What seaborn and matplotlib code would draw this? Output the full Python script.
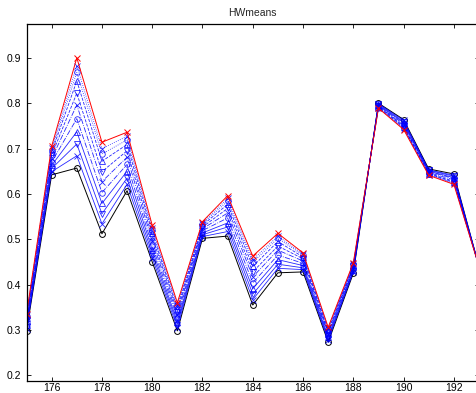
import matplotlib
matplotlib.use("Agg")
import matplotlib.pyplot as plt
import seaborn as sns
import pandas as pd

years = [175, 176, 177, 178, 179, 180, 181, 182, 183, 184, 185, 186, 187, 188, 189, 190, 191, 192, 193]

first_series = [0.298, 0.642, 0.657, 0.512, 0.607, 0.450, 0.298, 0.502, 0.507, 0.355, 0.426, 0.428, 0.273, 0.425, 0.800, 0.764, 0.655, 0.644, 0.440]
blue_1 = [0.302, 0.649, 0.684, 0.534, 0.621, 0.459, 0.305, 0.506, 0.517, 0.367, 0.436, 0.433, 0.277, 0.428, 0.799, 0.762, 0.653, 0.641, 0.440]
blue_2 = [0.306, 0.656, 0.710, 0.556, 0.635, 0.468, 0.312, 0.510, 0.527, 0.379, 0.445, 0.437, 0.280, 0.430, 0.798, 0.759, 0.652, 0.639, 0.440]
blue_3 = [0.310, 0.663, 0.737, 0.579, 0.650, 0.477, 0.318, 0.514, 0.536, 0.391, 0.455, 0.442, 0.284, 0.433, 0.796, 0.757, 0.650, 0.636, 0.440]
blue_4 = [0.315, 0.670, 0.766, 0.603, 0.665, 0.486, 0.326, 0.519, 0.547, 0.404, 0.465, 0.447, 0.288, 0.435, 0.795, 0.754, 0.649, 0.634, 0.440]
blue_5 = [0.319, 0.678, 0.796, 0.627, 0.681, 0.496, 0.333, 0.523, 0.558, 0.417, 0.476, 0.452, 0.292, 0.438, 0.794, 0.751, 0.647, 0.631, 0.440]
blue_6 = [0.323, 0.685, 0.822, 0.649, 0.695, 0.505, 0.340, 0.527, 0.568, 0.428, 0.485, 0.457, 0.295, 0.441, 0.793, 0.749, 0.645, 0.628, 0.440]
blue_7 = [0.327, 0.692, 0.849, 0.672, 0.709, 0.514, 0.347, 0.531, 0.577, 0.440, 0.495, 0.461, 0.299, 0.443, 0.791, 0.747, 0.644, 0.626, 0.440]
blue_8 = [0.330, 0.697, 0.868, 0.688, 0.719, 0.520, 0.352, 0.534, 0.584, 0.449, 0.502, 0.465, 0.302, 0.445, 0.790, 0.745, 0.643, 0.624, 0.440]
blue_9 = [0.332, 0.701, 0.883, 0.700, 0.727, 0.525, 0.356, 0.536, 0.590, 0.455, 0.507, 0.467, 0.304, 0.446, 0.790, 0.744, 0.642, 0.623, 0.440]
last_series = [0.335, 0.705, 0.900, 0.714, 0.736, 0.531, 0.360, 0.539, 0.596, 0.463, 0.513, 0.470, 0.306, 0.448, 0.789, 0.742, 0.641, 0.621, 0.440]

blue_series = [blue_1, blue_2, blue_3, blue_4, blue_5, blue_6, blue_7, blue_8, blue_9]

x_ticks = [176, 178, 180, 182, 184, 186, 188, 190, 192]
y_ticks = [0.2, 0.3, 0.4, 0.5, 0.6, 0.7, 0.8, 0.9]
title = "HWmeans"

sns.set_style("ticks")
plt.rcParams['font.family'] = ['Liberation Sans', 'DejaVu Sans']

fig = plt.figure(figsize=(4.77, 3.93), dpi=100)
fig.patch.set_facecolor("white")
ax = fig.add_axes([0.0556, 0.0300, 0.9486, 0.9082])
ax.set_facecolor("white")

blue_styles = [("-", "x"), ("-", "v"), ("-", "^"), ("-.", "o"), ("-.", "x"),
               ("--", "v"), ("--", "^"), (":", "o"), (":", "x")]

sns.lineplot(x=years, y=first_series, ax=ax, color="black", linewidth=0.7,
             marker="o", markersize=4.2, markerfacecolor="none",
             markeredgecolor="black", markeredgewidth=0.7)

for vals, (ls, mk) in zip(blue_series, blue_styles):
    sns.lineplot(x=years, y=vals, ax=ax, color=(0, 0, 1), linewidth=0.6,
                 linestyle=ls, marker=mk, markersize=4.0,
                 markerfacecolor="none", markeredgecolor=(0, 0, 1),
                 markeredgewidth=0.6, alpha=0.85)

sns.lineplot(x=years, y=last_series, ax=ax, color="red", linewidth=0.7,
             marker="x", markersize=4.2, markeredgecolor="red",
             markeredgewidth=0.7)

ax.set_xlim(175, 193)
ax.set_ylim(0.187, 0.974)
ax.set_xticks(x_ticks)
ax.set_xticklabels([str(t) for t in x_ticks])
ax.set_yticks(y_ticks)
ax.set_yticklabels([f"{t:.1f}" for t in y_ticks])
ax.tick_params(direction="in", length=3, width=0.6, labelsize=7.5,
               top=True, right=True, colors="black", pad=1.5)
ax.tick_params(axis="y", pad=4)
for sp in ax.spines.values():
    sp.set_visible(True)
    sp.set_color("black")
    sp.set_linewidth(0.9)
ax.set_xlabel("")
ax.set_ylabel("")
ax.set_title(title, fontsize=7.5, pad=6)

fig.savefig("out.png", dpi=100, facecolor="white")
